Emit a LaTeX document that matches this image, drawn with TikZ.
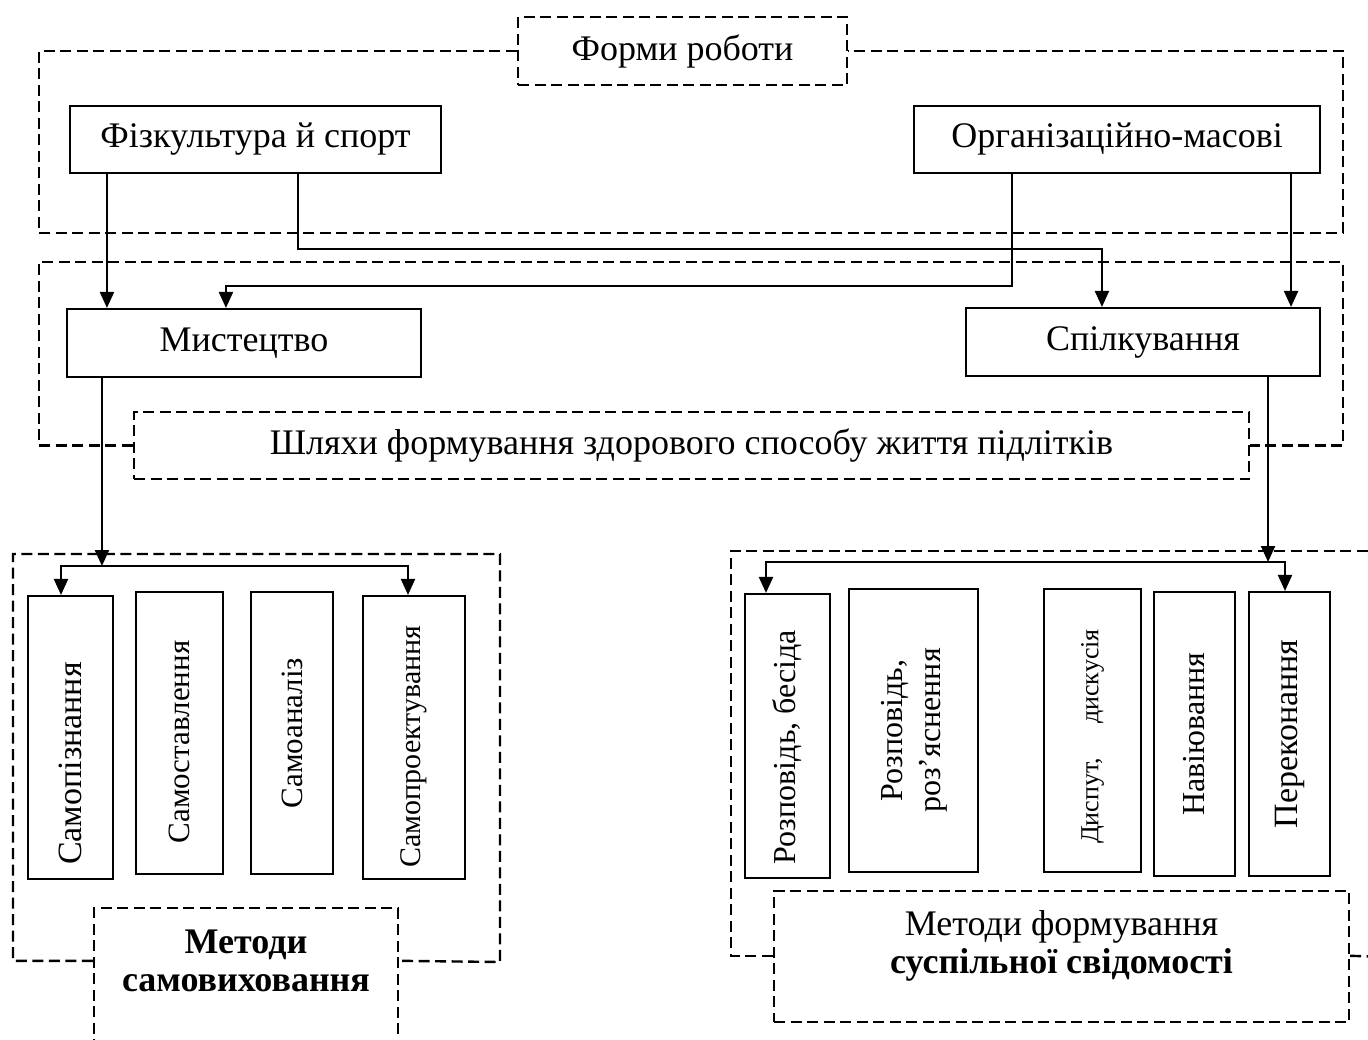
\documentclass[tikz,border=0pt]{standalone}
\usepackage{fontspec}
\setmainfont{Liberation Serif}
\usetikzlibrary{arrows.meta}
\usetikzlibrary{calc}

\begin{document}
\begin{tikzpicture}[x=1pt,y=-1pt,>={Triangle[length=16pt,width=14pt]},line width=2.1pt]
  \tikzstyle{solidbox}=[draw, inner sep=0pt, line width=2.1pt, font=\fontsize{36}{38}\selectfont]
  \tikzstyle{dashbox}=[draw, inner sep=0pt, dash pattern=on 11pt off 5.5pt, line width=2.4pt, font=\fontsize{36}{38}\selectfont]
  \tikzstyle{dashline}=[dash pattern=on 11pt off 5.5pt, line width=2.4pt]
  \tikzstyle{vbox}=[draw, inner sep=0pt, line width=2.1pt]
  \useasboundingbox (0,0) rectangle (1368,1039);
  \clip (0,0) rectangle (1368,1039);

  % upper part
  \node[dashbox, minimum width=329pt, minimum height=68pt] (forms) at (682.5,51) {Форми роботи};
  \node[solidbox, minimum width=371pt, minimum height=67pt] (fiz) at (255.5,139.5) {Фізкультура й спорт};
  \node[solidbox, minimum width=406pt, minimum height=67pt] (org) at (1117,139.5) {Організаційно-масові};
  \node[solidbox, minimum width=354pt, minimum height=68pt] (mist) at (244,343) {Мистецтво};
  \node[solidbox, minimum width=354pt, minimum height=68pt] (spil) at (1143,342) {Спілкування};
  \node[dashbox, minimum width=1115pt, minimum height=67pt] (ways) at (691.5,445.5) {Шляхи формування здорового способу життя підлітків};
  \draw[dashline] (forms.west) -| (39,233) -- (1343,233) |- (forms.east);
  \draw[dashline] (ways.west) -| (39,262) -- (1343,262) |- (ways.east);

  % self-education methods
  \node[vbox, minimum width=85pt, minimum height=283pt] (b1) at (70.5,737.5) {\rotatebox{90}{\fontsize{34}{36}\selectfont Самопізнання\hspace{52pt}}};
  \node[vbox, minimum width=87pt, minimum height=282pt] (b2) at (179.5,733) {\rotatebox{90}{\fontsize{31}{36}\selectfont Самоставлення\hspace{18pt}}};
  \node[vbox, minimum width=82pt, minimum height=282pt] (b3) at (292,733) {\rotatebox{90}{\fontsize{31}{36}\selectfont Самоаналіз}};
  \node[vbox, minimum width=102pt, minimum height=283pt] (b4) at (414,737.5) {\rotatebox{90}{\fontsize{30}{36}\selectfont Самопроектування\hspace{18pt}}};
  \node[dashbox, minimum width=304pt, minimum height=152pt,
        label={[align=center, yshift=23pt, font=\bfseries\fontsize{36}{38}\selectfont]center:Методи\\самовиховання}] (selfm) at (246,984) {};
  \draw[dashline] ([yshift=-54pt]selfm.north west) -| (13,554) -| (500,962) -- ([yshift=-54pt]selfm.north east);

  % methods of social consciousness
  \node[vbox, minimum width=85pt, minimum height=284pt] (r1) at (787.5,736) {\rotatebox{90}{\fontsize{32}{36}\selectfont Розповідь, бесіда\hspace{22pt}}};
  \node[vbox, minimum width=129pt, minimum height=283pt] (r2) at (913.5,730.5) {\rotatebox{90}{\fontsize{32}{38}\selectfont\begin{tabular}{@{}c@{}}Розповідь,\\роз’яснення\end{tabular}}};
  \node[vbox, minimum width=97pt, minimum height=283pt] (r3) at (1092.5,730.5) {\rotatebox{90}{\fontsize{26}{30}\selectfont Диспут,\hspace{34pt}дискусія\hspace{12pt}}};
  \node[vbox, minimum width=81pt, minimum height=284pt] (r4) at (1194.5,734) {\rotatebox{90}{\fontsize{32}{36}\selectfont Навіювання}};
  \node[vbox, minimum width=81pt, minimum height=284pt] (r5) at (1289.5,734) {\rotatebox{90}{\fontsize{34}{36}\selectfont Переконання}};
  \node[dashbox, minimum width=575pt, minimum height=131pt,
        label={[align=center, yshift=10.5pt, font=\fontsize{36}{38}\selectfont]center:Методи формування\\\textbf{суспільної свідомості}}] (socm) at (1061.5,956.5) {};
  \draw[dashline] ([yshift=-66pt]socm.north west) -| (731,551) -- (1390,551);
  \draw[dashline] ([yshift=-66pt]socm.north east) -- (1390,957);

  % connectors
  \draw[->] ([xshift=38pt]fiz.south west) coordinate (f1) -- (f1 |- mist.north);
  \draw[->] ([xshift=229pt]fiz.south west) -- ++(0,-75pt) -| ([xshift=137pt]spil.north west);
  \draw[->] ([xshift=99pt]org.south west) -- ++(0,-112pt) -| ([xshift=160pt]mist.north west);
  \draw[->] ([xshift=-30pt]org.south east) coordinate (o2) -- (o2 |- spil.north);

  \coordinate (lb) at (61,566);
  \coordinate (rb) at (408,566);
  \draw[->] ([xshift=36pt]mist.south west) coordinate (m1) -- (m1 |- lb);
  \draw[<->] (lb |- b1.north) -- (lb) -- (rb) -- (rb |- b4.north);

  \coordinate (rlb) at (766,562);
  \coordinate (rrb) at (1285,562);
  \draw[->] ([xshift=-53pt]spil.south east) coordinate (s1) -- (s1 |- rlb);
  \draw[<->] (rlb |- r1.north) -- (rlb) -- (rrb) -- (rrb |- r5.north);
\end{tikzpicture}
\end{document}
